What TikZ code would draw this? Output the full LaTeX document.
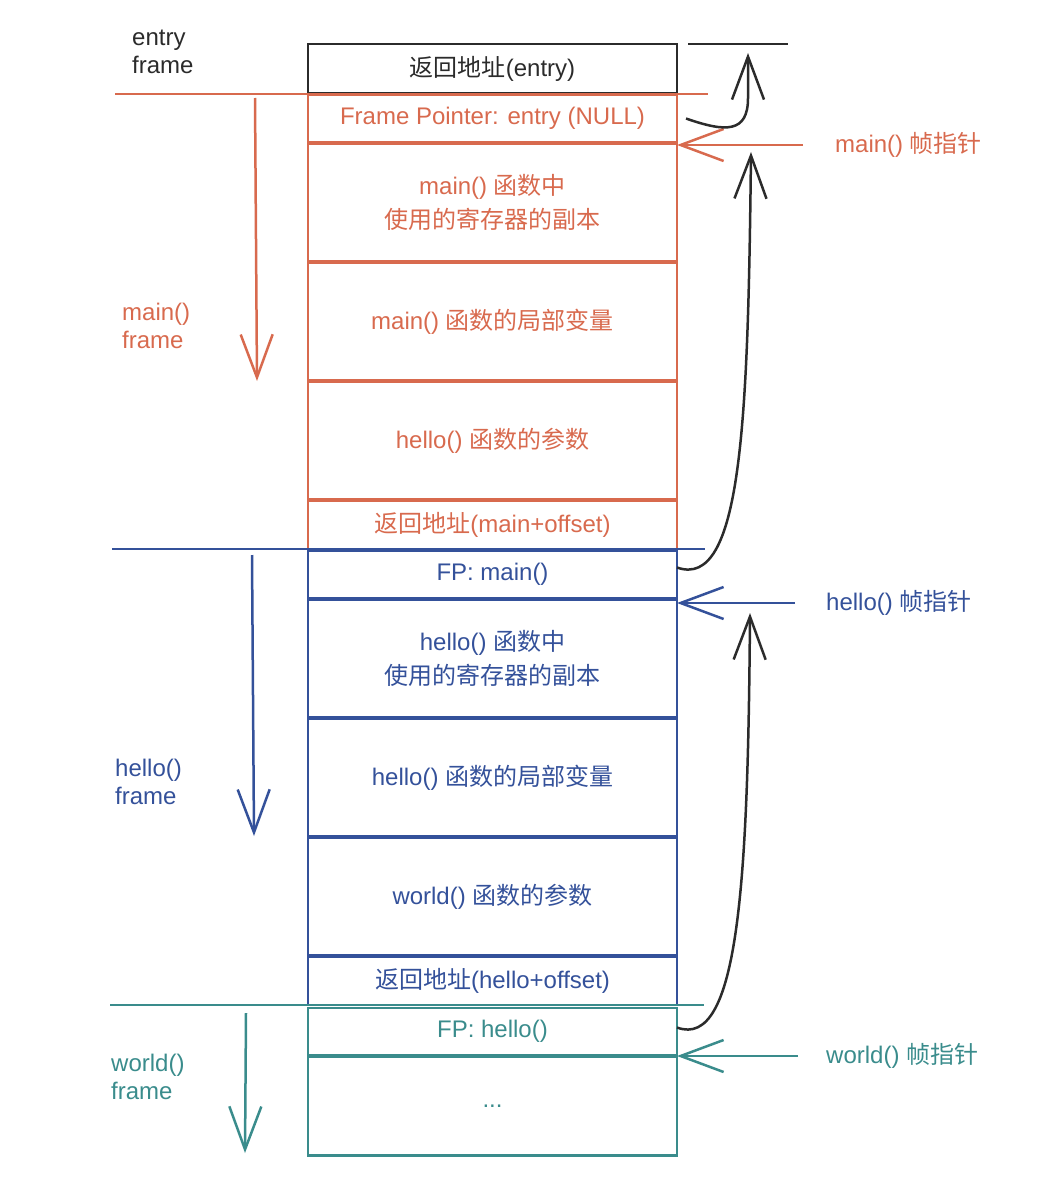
\documentclass[tikz,border=0pt]{standalone}
\usepackage{fontspec}
\setmainfont{Liberation Sans}
\newfontfamily\cjk{Noto Sans CJK SC}
\newcommand{\zh}[1]{{\cjk #1}}
\usepackage{tikz}
\usetikzlibrary{arrows.meta,positioning}
\definecolor{entryclr}{HTML}{2B2B2B}
\definecolor{mainclr}{HTML}{D86A4E}
\definecolor{helloclr}{HTML}{34519A}
\definecolor{worldclr}{HTML}{3A8C8C}

\begin{document}
\begin{tikzpicture}[
		x=1pt, y=-1pt,
		font=\fontsize{24}{28}\selectfont,
		>={Straight Barb[length=43pt,width=32pt]},
		slot/.style={draw, line width=2.8pt, minimum width=369pt, inner sep=0pt, outer sep=0pt, align=center, font=\fontsize{24}{34}\selectfont},
		smallslot/.style={slot, minimum height=48pt},
		bigslot/.style={slot, minimum height=117.5pt},
		framelabel/.style={anchor=west, align=left, inner sep=0pt},
		fplabel/.style={anchor=west, inner sep=0pt},
		sepline/.style={line width=2.5pt},
		growarrow/.style={line width=2.5pt, ->},
		fparrow/.style={line width=2.5pt, ->},
		linkarrow/.style={line width=2.5pt, ->, entryclr},
		node distance=1.5pt
		]

		\useasboundingbox (0,0) rectangle (1038,1196);

		% stack slots
		\node[slot, minimum height=49pt, entryclr] (entryret) at (492.5,68.5) {\zh{返回地址}(entry)};
		\node[smallslot, mainclr, below=of entryret] (mainfp) {Frame Pointer: entry (NULL)};
		\node[bigslot, mainclr, below=of mainfp] (mainregs) {main() \zh{函数中}\\\zh{使用的寄存器的副本}};
		\node[bigslot, mainclr, below=of mainregs] (mainlocals) {main() \zh{函数的局部变量}};
		\node[bigslot, mainclr, below=of mainlocals] (helloargs) {hello() \zh{函数的参数}};
		\node[smallslot, mainclr, below=of helloargs] (mainret) {\zh{返回地址}(main+offset)};
		\node[smallslot, helloclr, below=of mainret] (hellofp) {FP: main()};
		\node[bigslot, helloclr, below=of hellofp] (helloregs) {hello() \zh{函数中}\\\zh{使用的寄存器的副本}};
		\node[bigslot, helloclr, below=of helloregs] (hellolocals) {hello() \zh{函数的局部变量}};
		\node[bigslot, helloclr, below=of hellolocals] (worldargs) {world() \zh{函数的参数}};
		\node[smallslot, helloclr, below=of worldargs] (helloret) {\zh{返回地址}(hello+offset)};
		\node[smallslot, minimum height=47pt, worldclr, below=3pt of helloret] (worldfp) {FP: hello()};
		\node[slot, minimum height=99pt, worldclr, below=of worldfp] (worldrest) {...};

		% frame separators
		\draw[sepline, mainclr] (115,94) -- (708,94);
		\draw[sepline, helloclr] (112,549) -- (705,549);
		\draw[sepline, worldclr] (110,1005) -- (704,1005);
		\draw[sepline, entryclr] (688,44) -- (788,44);

		% frame labels
		\node[framelabel, entryclr] (entrylabel) at (132,52) {entry\\frame};
		\node[framelabel, mainclr] (mainlabel) at (122,326) {main()\\frame};
		\node[framelabel, helloclr] (hellolabel) at (115,782) {hello()\\frame};
		\node[framelabel, worldclr] (worldlabel) at (111,1077) {world()\\frame};

		% growth direction
		\coordinate (maingrowtop) at (255,98);
		\coordinate (maingrowend) at (257,381);
		\coordinate (hellogrowtop) at (252,555);
		\coordinate (hellogrowend) at (254,836);
		\coordinate (worldgrowtop) at (246,1013);
		\coordinate (worldgrowend) at (245,1153);
		\draw[growarrow, mainclr] (maingrowtop) -- (maingrowend);
		\draw[growarrow, helloclr] (hellogrowtop) -- (hellogrowend);
		\draw[growarrow, worldclr] (worldgrowtop) -- (worldgrowend);

		% frame pointers
		\node[fplabel, mainclr] (mainfplabel) at (835,145) {main() \zh{帧指针}};
		\node[fplabel, helloclr] (hellofplabel) at (826,603) {hello() \zh{帧指针}};
		\node[fplabel, worldclr] (worldfplabel) at (826,1056) {world() \zh{帧指针}};
		\draw[fparrow, mainclr] ([xshift=-32pt]mainfplabel.west) -- (mainfplabel.west -| mainfp.east);
		\draw[fparrow, helloclr] ([xshift=-31pt]hellofplabel.west) -- (hellofplabel.west -| hellofp.east);
		\draw[fparrow, worldclr] ([xshift=-28pt]worldfplabel.west) -- (worldfplabel.west -| worldfp.east);

		% saved frame pointer links
		\coordinate (entrytip) at (748,53);
		\coordinate (mainfptip) at (751,152);
		\coordinate (hellofptip) at (750,613);
		\draw[linkarrow] ([xshift=9pt]mainfp.east) .. controls +(40,14) and +(0,35) .. ([yshift=-45pt]entrytip) -- (entrytip);
		\draw[linkarrow] ([yshift=7pt]hellofp.east) .. controls +(65,23) and +(-3,268) .. (mainfptip);
		\draw[linkarrow] ([yshift=4pt]worldfp.east) .. controls +(62,23) and +(-2,267) .. (hellofptip);
	\end{tikzpicture}
\end{document}
